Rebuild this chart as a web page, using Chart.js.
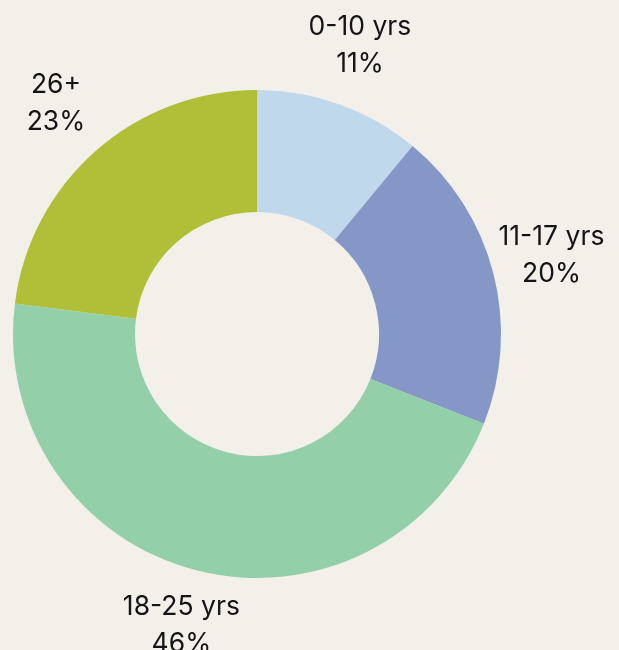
<!DOCTYPE html>
<html>
<head>
    <title>Age groups</title>
    <script src="https://cdn.jsdelivr.net/npm/chart.js"></script>
    <style>
        html, body { margin: 0; padding: 0; background: #f3efe9; }
        .chart-container { width: 619px; height: 650px; }
    </style>
</head>
<body>
    <div class="chart-container">
        <canvas id="ageChart"></canvas>
    </div>

    <script>
        const categories = ['0-10 yrs', '11-17 yrs', '18-25 yrs', '26+'];
        const shares = [11, 20, 46, 23];
        const sliceColors = ['#c0d8ec', '#8597c7', '#93d0a9', '#b1be37'];

        // draws "category / percent" outside each slice
        const outsideLabels = {
            id: 'outsideLabels',
            afterDatasetsDraw(chart) {
                const c = chart.ctx;
                const meta = chart.getDatasetMeta(0);
                c.save();
                c.fillStyle = '#141414';
                c.font = '400 26.5px Inter, "Noto Sans", sans-serif';
                c.textAlign = 'center';
                c.textBaseline = 'middle';
                meta.data.forEach((arc, i) => {
                    const p = arc.getProps(['x', 'y', 'startAngle', 'endAngle', 'outerRadius'], true);
                    const mid = (p.startAngle + p.endAngle) / 2;
                    const r = p.outerRadius + 60;
                    const x = p.x + Math.cos(mid) * r;
                    const y = p.y + Math.sin(mid) * r;
                    c.fillText(categories[i], x, y - 21);
                    c.fillText(shares[i] + '%', x, y + 16);
                });
                c.restore();
            }
        };

        new Chart(document.getElementById('ageChart'), {
            type: 'doughnut',
            data: {
                labels: categories,
                datasets: [{
                    data: shares,
                    backgroundColor: sliceColors,
                    borderWidth: 0
                }]
            },
            options: {
                responsive: true,
                maintainAspectRatio: false,
                animation: false,
                cutout: '50%',
                layout: {
                    padding: { left: 13, top: 90, right: 118, bottom: 72 }
                },
                plugins: {
                    legend: { display: false },
                    tooltip: { enabled: false }
                }
            },
            plugins: [outsideLabels]
        });
    </script>
</body>
</html>
